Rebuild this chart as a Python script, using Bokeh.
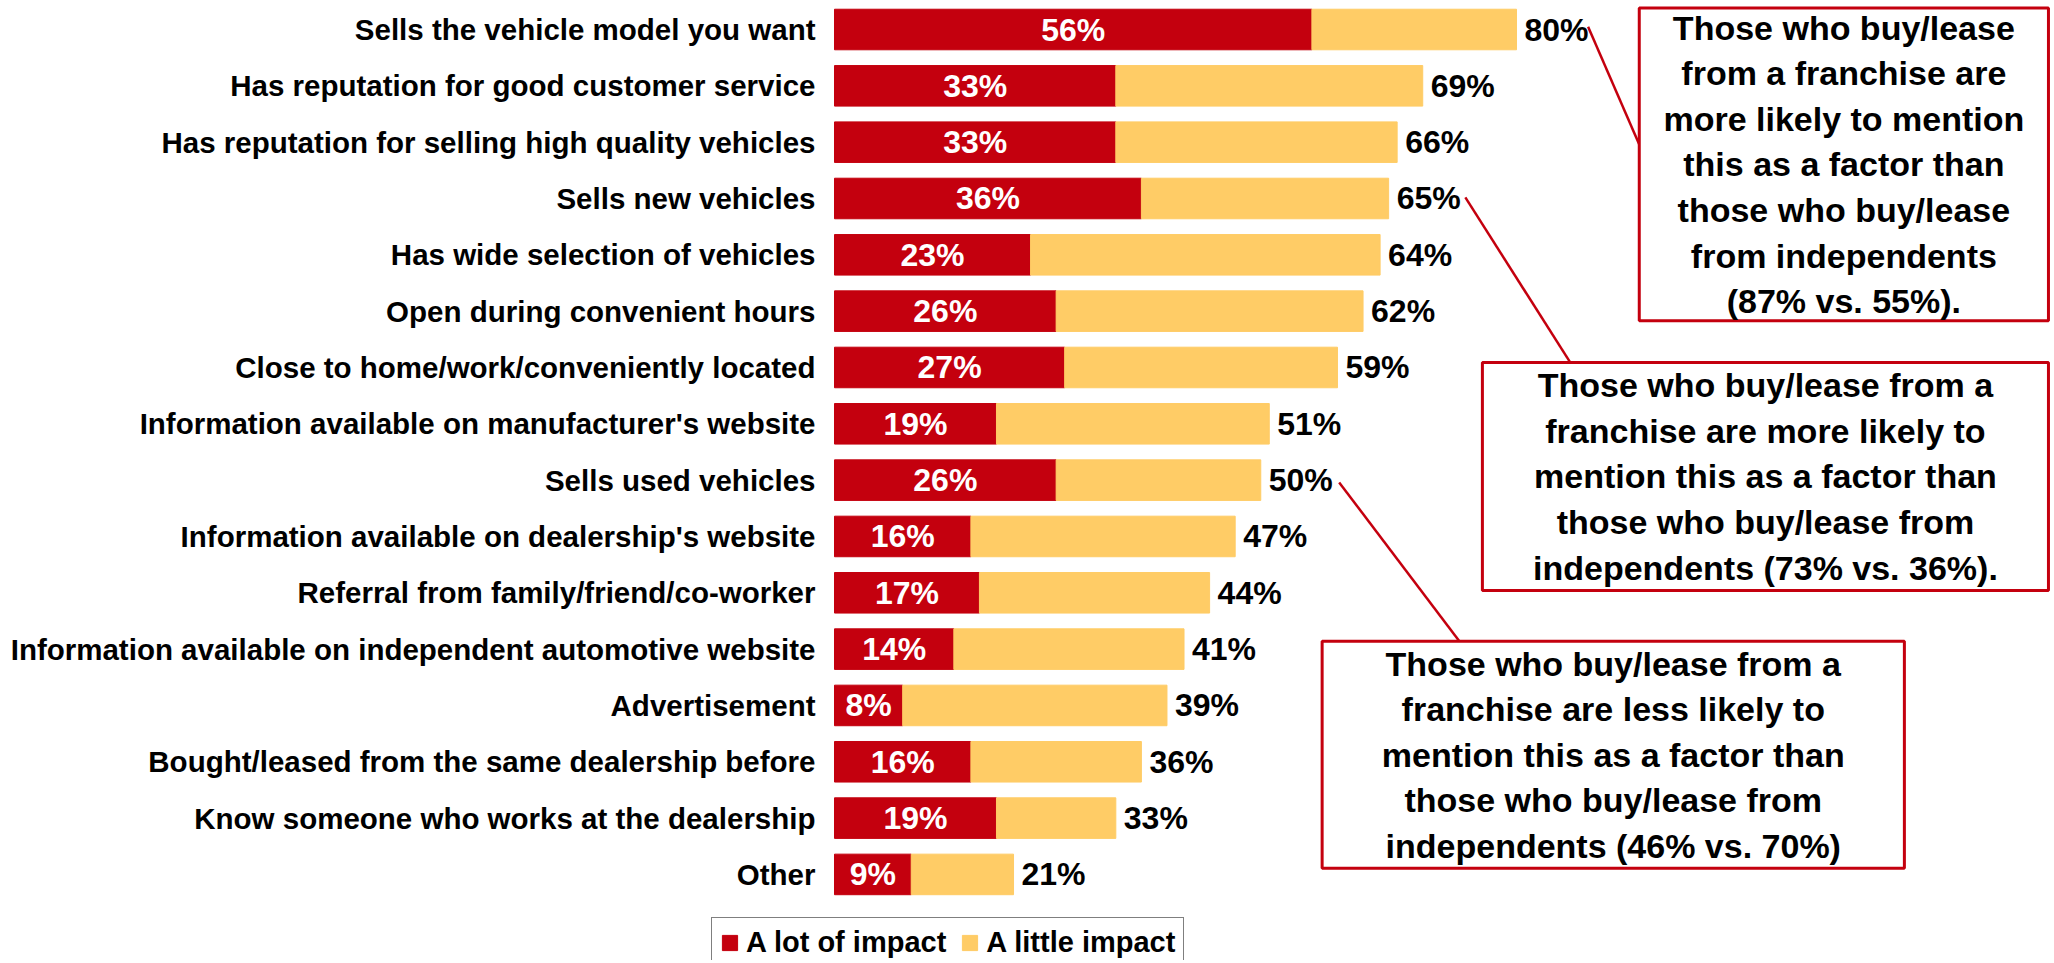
from bokeh.plotting import figure
from bokeh.models import (Range1d, ColumnDataSource, BoxAnnotation, Label,
                          Legend, LegendItem)
from bokeh.core.properties import value
from bokeh.embed import file_html
from bokeh.resources import INLINE

# ---- data ----
categories = [
    "Sells the vehicle model you want",
    "Has reputation for good customer service",
    "Has reputation for selling high quality vehicles",
    "Sells new vehicles",
    "Has wide selection of vehicles",
    "Open during convenient hours",
    "Close to home/work/conveniently located",
    "Information available on manufacturer's website",
    "Sells used vehicles",
    "Information available on dealership's website",
    "Referral from family/friend/co-worker",
    "Information available on independent automotive website",
    "Advertisement",
    "Bought/leased from the same dealership before",
    "Know someone who works at the dealership",
    "Other",
]
a_lot = [56, 33, 33, 36, 23, 26, 27, 19, 26, 16, 17, 14, 8, 16, 19, 9]
total = [80, 69, 66, 65, 64, 62, 59, 51, 50, 47, 44, 41, 39, 36, 33, 21]
series_names = ["A lot of impact", "A little impact"]

notes = [
    "Those who buy/lease\nfrom a franchise are\nmore likely to mention\nthis as a factor than\nthose who buy/lease\nfrom independents\n(87% vs. 55%).",
    "Those who buy/lease from a\nfranchise are more likely to\nmention this as a factor than\nthose who buy/lease from\nindependents (73% vs. 36%).",
    "Those who buy/lease from a\nfranchise are less likely to\nmention this as a factor than\nthose who buy/lease from\nindependents (46% vs. 70%)",
]

RED = "#C4000E"
YELLOW = "#FFCC66"
FONT = "Liberation Sans"

n = len(categories)
ys = list(range(n))
little = [t - l for t, l in zip(total, a_lot)]
src = ColumnDataSource(dict(
    y=ys, cat=categories, lot=a_lot, total=total, little=little,
    zero=[0] * n,
    lot_mid=[l / 2 for l in a_lot],
    lot_lbl=[f"{v}%" for v in a_lot],
    tot_lbl=[f"{v}%" for v in total],
))

W, H = 2050, 960
PX = 8.525          # pixels per percentage point
X0 = 834            # pixel position of the bars' zero line
p = figure(width=W, height=H, output_backend="svg", toolbar_location=None,
           x_range=Range1d(-X0 / PX, (W - X0) / PX), y_range=Range1d(16.528, -0.515),
           min_border_left=0, min_border_right=0, min_border_top=0, min_border_bottom=0)
p.outline_line_color = None
p.xgrid.visible = False
p.ygrid.visible = False
p.xaxis.visible = False
p.yaxis.visible = False
p.background_fill_color = "white"

# category labels
p.text(x="zero", y="y", text="cat", source=src, x_offset=-19, text_align="right",
       text_baseline="middle", text_color="black", text_font=value(FONT),
       text_font_style="bold", text_font_size="29.5px")

r1 = p.hbar(y="y", left=0, right="lot", height=0.72, color=RED, source=src)
r2 = p.hbar(y="y", left="lot", right="total", height=0.72, color=YELLOW, source=src)

p.text(x="lot_mid", y="y", text="lot_lbl", source=src, text_align="center",
       text_baseline="middle", text_color="white", text_font=value(FONT),
       text_font_style="bold", text_font_size="32px")
p.text(x="total", y="y", text="tot_lbl", source=src, x_offset=8, text_align="left",
       text_baseline="middle", text_color="black", text_font=value(FONT),
       text_font_style="bold", text_font_size="32px")

# ---- callouts ----
boxes = [  # left, right, top, bottom (data units)
    (94.4, 142.4, -0.38, 5.17),
    (76.0, 142.4, 5.91, 9.96),
    (57.2, 125.5, 10.86, 14.89),
]
links = dict(x0=[88.4, 74.0, 59.2], y0=[-0.05, 2.98, 8.04],
             x1=[94.4, 86.3, 73.3], y1=[2.04, 5.91, 10.86])
p.segment(x0="x0", y0="y0", x1="x1", y1="y1", source=ColumnDataSource(links),
          line_color=RED, line_width=2.5)
for (l, r, t, b), txt in zip(boxes, notes):
    p.add_layout(BoxAnnotation(left=l, right=r, top=t, bottom=b, fill_color="white",
                               fill_alpha=1, line_color=RED, line_alpha=1, line_width=3,
                               level="overlay"))
    p.add_layout(Label(x=(l + r) / 2, y=(t + b) / 2, text=txt, text_align="center",
                       text_baseline="middle", text_font=FONT, text_font_style="bold",
                       text_font_size="34px", text_line_height=1.2, text_color="black",
                       level="overlay"))

legend = Legend(items=[LegendItem(label=series_names[0], renderers=[r1]),
                       LegendItem(label=series_names[1], renderers=[r2])],
                orientation="horizontal", location=(711, -8))
legend.border_line_color = "black"
legend.border_line_width = 1.5
legend.label_text_font = FONT
legend.label_text_font_style = "bold"
legend.label_text_font_size = "29px"
legend.label_text_color = "black"
legend.glyph_width = 19
legend.glyph_height = 19
legend.label_standoff = 7
legend.spacing = 14
legend.padding = 8
legend.margin = 0
p.add_layout(legend, "center")

open("out.html", "w").write(file_html(p, INLINE))
